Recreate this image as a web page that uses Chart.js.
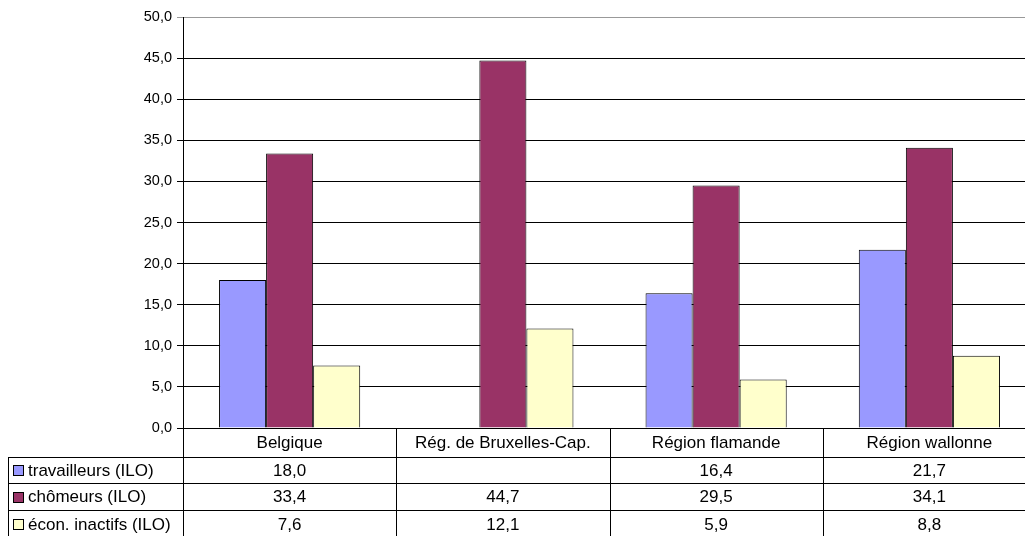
<!DOCTYPE html>
<html>
<head>
<meta charset="utf-8">
<script src="https://cdn.jsdelivr.net/npm/chart.js@4.4.1/dist/chart.umd.min.js"></script>
<style>
    html, body { margin: 0; padding: 0; overflow: hidden; background: #fff; }
    #wrap { width: 1036px; height: 536px; position: relative; }
</style>
</head>
<body>
<div id="wrap"><canvas id="chart"></canvas></div>
<script>
// ---------- data ----------
const regions = ['Belgique', 'Rég. de Bruxelles-Cap.', 'Région flamande', 'Région wallonne'];
const travailleurs = [18.0, null, 16.4, 21.7];
const chomeurs = [33.4, 44.7, 29.5, 34.1];
const inactifs = [7.6, 12.1, 5.9, 8.8];
const seriesNames = ['travailleurs (ILO)', 'chômeurs (ILO)', 'écon. inactifs (ILO)'];
const seriesColors = ['#9999ff', '#993366', '#ffffcc'];
const yMin = 0, yMax = 50, yStep = 5;

const FONT = '"Liberation Sans", Arial, sans-serif';

function fmt(v) {
    return v.toFixed(1).replace('.', ',');
}

// draws the data table under the plot (Excel style)
const dataTable = {
    id: 'dataTable',
    afterDraw(chart) {
        const ctx = chart.ctx;
        const area = chart.chartArea;
        const x = chart.scales.x;
        const half = (area.right - area.left) / regions.length / 2;
        const top = area.bottom;
        const rowLines = [top + 29, top + 55, top + 82, top + 110];
        const tableLeft = 8;

        ctx.save();
        ctx.strokeStyle = '#000';
        ctx.lineWidth = 1;
        ctx.beginPath();
        // horizontal lines
        rowLines.forEach(y => {
            ctx.moveTo(tableLeft, Math.round(y) + 0.5);
            ctx.lineTo(chart.width, Math.round(y) + 0.5);
        });
        // left border of series rows
        ctx.moveTo(tableLeft + 0.5, rowLines[0]);
        ctx.lineTo(tableLeft + 0.5, chart.height);
        // column separators
        for (let i = 0; i <= regions.length; i++) {
            const px = Math.round(x.getPixelForValue(i) - half) + 0.5;
            ctx.moveTo(px, top);
            ctx.lineTo(px, chart.height);
        }
        ctx.stroke();

        ctx.fillStyle = '#000';
        ctx.font = '17px ' + FONT;
        ctx.textBaseline = 'middle';
        ctx.textAlign = 'center';
        regions.forEach((r, i) => {
            ctx.fillText(r, x.getPixelForValue(i), (top + rowLines[0]) / 2 + 1);
        });

        const values = [travailleurs, chomeurs, inactifs];
        values.forEach((vals, s) => {
            const yc = (rowLines[s] + rowLines[s + 1]) / 2 + 1;
            // legend key
            ctx.fillStyle = seriesColors[s];
            ctx.fillRect(13.5, Math.round(yc - 6) + 0.5, 10, 10);
            ctx.strokeRect(13.5, Math.round(yc - 6) + 0.5, 10, 10);
            ctx.fillStyle = '#000';
            ctx.textAlign = 'left';
            ctx.fillText(seriesNames[s], 28, yc);
            ctx.textAlign = 'center';
            vals.forEach((v, i) => {
                if (v !== null) ctx.fillText(fmt(v), x.getPixelForValue(i), yc);
            });
        });
        ctx.restore();
    }
};

const ctx = document.getElementById('chart');

new Chart(ctx, {
    type: 'bar',
    data: {
        labels: regions,
        datasets: [
            { label: seriesNames[0], data: travailleurs, backgroundColor: seriesColors[0] },
            { label: seriesNames[1], data: chomeurs, backgroundColor: seriesColors[1] },
            { label: seriesNames[2], data: inactifs, backgroundColor: seriesColors[2] }
        ]
    },
    options: {
        responsive: true,
        maintainAspectRatio: false,
        animation: false,
        layout: { padding: { top: 17, bottom: 108, left: 0, right: 0 } },
        datasets: {
            bar: {
                borderColor: '#000',
                borderWidth: 1,
                categoryPercentage: 0.662,
                barPercentage: 1
            }
        },
        scales: {
            x: {
                display: false
            },
            y: {
                min: yMin,
                max: yMax,
                afterFit(scale) { scale.width = 183; },
                ticks: {
                    stepSize: yStep,
                    padding: 5,
                    color: '#000',
                    font: { family: FONT, size: 14.5 },
                    callback: v => fmt(v)
                },
                grid: {
                    color: c => (c.tick && c.tick.value === yMax) ? '#999' : '#000',
                    tickLength: 6
                },
                border: { color: '#000' }
            }
        },
        plugins: {
            legend: { display: false },
            tooltip: { enabled: false }
        }
    },
    plugins: [dataTable]
});
</script>
</body>
</html>
